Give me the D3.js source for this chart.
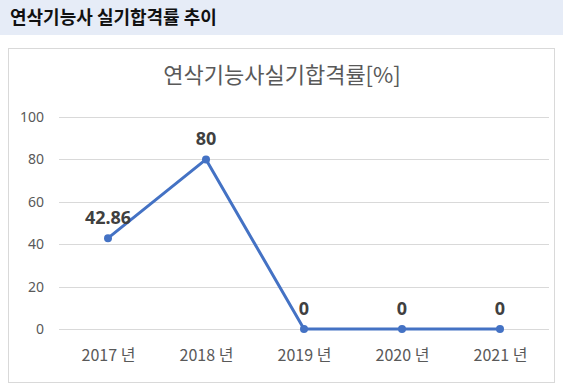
<!DOCTYPE html>
<html>
<head>
<meta charset="utf-8">
<script src="https://cdn.jsdelivr.net/npm/d3@7"></script>
<style>
  body { margin: 0; background: #fff; font-family: "Noto Sans CJK KR", "Noto Sans", sans-serif; }
</style>
</head>
<body>
<script>
"use strict";

var years = ["2017 년", "2018 년", "2019 년", "2020 년", "2021 년"];
var passRates = [42.86, 80, 0, 0, 0];
var rateLabels = ["42.86", "80", "0", "0", "0"];
var yTicks = [0, 20, 40, 60, 80, 100];

var width = 563;
var height = 389;

var svg = d3.select("body").append("svg")
	.attr("width", width)
	.attr("height", height);

// header band
svg.append("rect")
	.attr("x", 0).attr("y", 0)
	.attr("width", width).attr("height", 35)
	.attr("fill", "#e6ecf7");

svg.append("text")
	.attr("x", 10).attr("y", 24)
	.attr("font-size", 18)
	.attr("font-weight", "bold")
	.attr("fill", "#111")
	.text("연삭기능사 실기합격률 추이");

// chart frame
svg.append("rect")
	.attr("x", 8.5).attr("y", 48.5)
	.attr("width", 546).attr("height", 334)
	.attr("fill", "#fff")
	.attr("stroke", "#d9d9d9");

svg.append("text")
	.attr("x", 282).attr("y", 83)
	.attr("text-anchor", "middle")
	.attr("font-size", 22)
	.attr("fill", "#595959")
	.text("연삭기능사실기합격률[%]");

var margin = { top: 117, left: 59, right: 14, bottom: 60 };

var xScale = d3.scalePoint()
	.domain(years)
	.range([margin.left, width - margin.right])
	.padding(0.5);

var yScale = d3.scaleLinear()
	.domain([0, 100])
	.range([height - margin.bottom, margin.top]);

// gridlines
svg.append("g")
	.selectAll("line")
	.data(yTicks)
	.enter()
	.append("line")
	.attr("x1", margin.left)
	.attr("x2", width - margin.right)
	.attr("y1", function(d) { return Math.round(yScale(d)) + 0.5; })
	.attr("y2", function(d) { return Math.round(yScale(d)) + 0.5; })
	.attr("stroke", "#d9d9d9");

// y axis labels
var yAxis = svg.append("g")
	.attr("transform", "translate(" + (margin.left - 15) + ",0)")
	.call(d3.axisLeft(yScale).tickValues(yTicks).tickSize(0).tickPadding(0));
yAxis.select(".domain").remove();
yAxis.selectAll("text")
	.attr("font-size", 14)
	.attr("fill", "#595959")
	.attr("font-family", "'Noto Sans', sans-serif");

// x axis labels
var xAxis = svg.append("g")
	.attr("transform", "translate(0," + (height - margin.bottom) + ")")
	.call(d3.axisBottom(xScale).tickSize(0).tickPadding(21));
xAxis.select(".domain").remove();
xAxis.selectAll("text")
	.attr("font-size", 16)
	.attr("fill", "#595959")
	.attr("font-family", "'Noto Sans CJK KR', sans-serif");

var points = years.map(function(y, i) { return { year: y, value: passRates[i], label: rateLabels[i] }; });

var line = d3.line()
	.x(function(d) { return xScale(d.year); })
	.y(function(d) { return yScale(d.value); });

svg.append("path")
	.datum(points)
	.attr("d", line)
	.attr("fill", "none")
	.attr("stroke", "#4472c4")
	.attr("stroke-width", 3)
	.attr("stroke-linejoin", "round");

svg.append("g")
	.selectAll("circle")
	.data(points)
	.enter()
	.append("circle")
	.attr("cx", function(d) { return xScale(d.year); })
	.attr("cy", function(d) { return yScale(d.value); })
	.attr("r", 4)
	.attr("fill", "#4472c4");

svg.append("g")
	.selectAll("text")
	.data(points)
	.enter()
	.append("text")
	.attr("x", function(d) { return xScale(d.year); })
	.attr("y", function(d) { return yScale(d.value) - 14; })
	.attr("text-anchor", "middle")
	.attr("font-size", 18)
	.attr("font-weight", "bold")
	.attr("fill", "#404040")
	.attr("font-family", "'Noto Sans', sans-serif")
	.text(function(d) { return d.label; });
</script>
</body>
</html>
